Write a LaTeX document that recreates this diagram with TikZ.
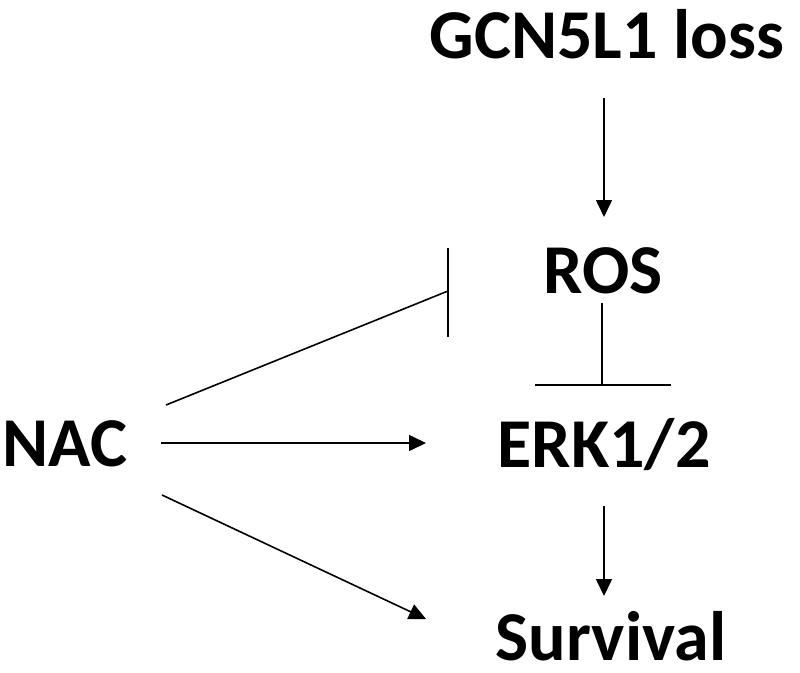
\documentclass[tikz,border=0pt]{standalone}
\usepackage{fontspec}
\setmainfont{Carlito}
\usetikzlibrary{arrows.meta}
\begin{document}
\begin{tikzpicture}[x=1pt,y=-1pt,
  lbl/.style={inner sep=0pt,anchor=base,font=\fontsize{70}{84}\selectfont\bfseries},
  conn/.style={line width=1.6pt},
  act/.style={conn,-{Triangle[length=17pt,width=16pt]}}]
\useasboundingbox (0,0) rectangle (800,672);
\node[lbl] (gcn) at (607,58) {GCN5L1 loss};
\node[lbl] (ros) at (603,293) {ROS};
\node[lbl] (erk) at (604,467) {ERK1/2};
\node[lbl] (surv) at (611,660) {Survival};
\node[lbl] (nac) at (65,466) {NAC};
% connector endpoints
\coordinate (g1) at (604,98);
\coordinate (g2) at (604,217);
\coordinate (r1) at (602,303);
\coordinate (r2) at (602,385);
\coordinate (rb1) at (535,385);
\coordinate (rb2) at (671,385);
\coordinate (e1) at (604,506);
\coordinate (e2) at (604,596);
\coordinate (n1) at (166,405);
\coordinate (n1e) at (448,291);
\coordinate (nb1) at (448,248);
\coordinate (nb2) at (448,337);
\coordinate (n2) at (161,443);
\coordinate (n2e) at (426,443);
\coordinate (n3) at (162,495);
\coordinate (n3e) at (426,619);
\draw[act] (g1) -- (g2);
\draw[conn] (r1) -- (r2);
\draw[conn] (rb1) -- (rb2);
\draw[act] (e1) -- (e2);
\draw[conn] (n1) -- (n1e);
\draw[conn] (nb1) -- (nb2);
\draw[act] (n2) -- (n2e);
\draw[act] (n3) -- (n3e);
\end{tikzpicture}
\end{document}
